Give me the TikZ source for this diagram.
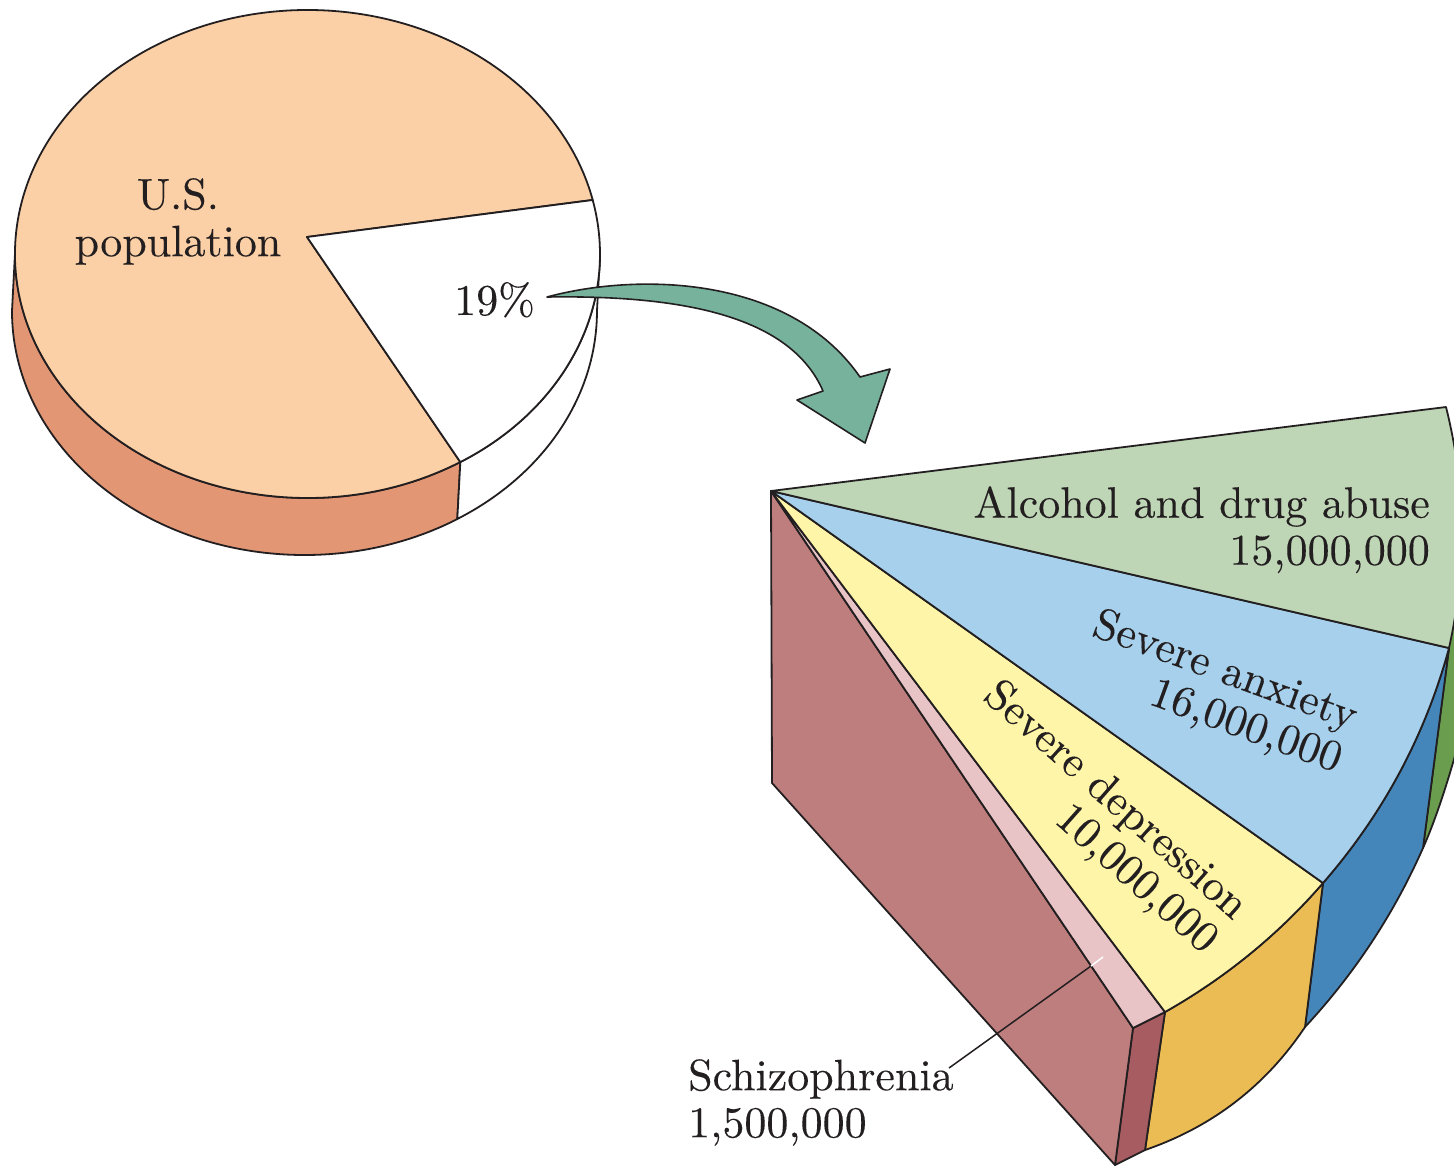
\documentclass[tikz,border=0pt]{standalone}
\usepackage{fontspec}
\newfontfamily\lblfont{lmroman10-regular.otf}[FakeBold=0.15]
\definecolor{ink}{RGB}{35,31,32}
\definecolor{peachtop}{RGB}{252,208,166}
\definecolor{peachside}{RGB}{226,150,116}
\definecolor{teal}{RGB}{118,178,156}
\definecolor{greentop}{RGB}{190,214,182}
\definecolor{greenside}{RGB}{106,158,78}
\definecolor{bluetop}{RGB}{166,208,235}
\definecolor{blueside}{RGB}{68,134,186}
\definecolor{yellowtop}{RGB}{255,245,168}
\definecolor{yellowside}{RGB}{236,188,84}
\definecolor{pinktop}{RGB}{232,196,198}
\definecolor{redface}{RGB}{190,126,126}
\definecolor{darkred}{RGB}{166,92,96}
\begin{document}
\begin{tikzpicture}[x=1pt,y=-1pt,
  face/.style={draw=ink, line width=1.8pt, line join=round},
  lbl/.style={text=ink, inner sep=0pt, font=\lblfont\fontsize{44}{47}\selectfont},
  rlbl/.style={text=ink, inner sep=0pt, font=\lblfont\fontsize{44}{45}\selectfont}]
\useasboundingbox (0,0) rectangle (1454,1168);
\clip (0,0) rectangle (1454,1168);
% ---------- left pie ----------
\path[face, fill=peachside] (460.3,462) arc[start angle=58.5, end angle=180, x radius=292.5, y radius=244]
  -- (12,311) arc[start angle=180, end angle=58.5, x radius=292.5, y radius=244] -- cycle;
\path[face, fill=white] (600,254) arc[start angle=0, end angle=58.5, x radius=292.5, y radius=244]
  -- (457.3,519) arc[start angle=58.5, end angle=0, x radius=292.5, y radius=244] -- cycle;
\path[face, fill=peachtop] (307,237) -- (460.3,462) arc[start angle=58.5, end angle=347.2, x radius=292.5, y radius=244] -- cycle;
\path[face, fill=white] (307,237) -- (592.7,200) arc[start angle=-12.8, end angle=58.5, x radius=292.5, y radius=244] -- cycle;
\node[lbl, align=center, anchor=north] (us) at (178,178) {U.S.\\population};
\node[lbl, anchor=base west] (pct) at (454,315) {19\%};
% ---------- arrow ----------
\path[draw=ink, line width=1.6pt, line join=round, fill=teal]
  (547,297) .. controls (640,272) and (790,276) .. (860,377) -- (890,369) -- (865,443) -- (797,400) -- (823,391)
  .. controls (790,315) and (680,295) .. (547,297) -- cycle;
% ---------- right pie: side faces ----------
\coordinate (A) at (771,491);
\coordinate (G1) at (1446,407);
\coordinate (G2) at (1449,648);
\coordinate (B2) at (1323,883);
\coordinate (Y2) at (1165,1012);
\coordinate (P2) at (1133,1028);
\coordinate (Rb) at (1115,1165);
\coordinate (Yb) at (1145,1150);
\coordinate (Bb) at (1305,1027);
\coordinate (Gb) at (1423,848);
\coordinate (RL) at (772,783);
\path[face, fill=greenside] (G2) -- (Gb) .. controls (1440,810) and (1458,750) .. (1472,690) -- (1480,540) -- (1440,540) -- cycle;
\path[face, fill=blueside] (B2) -- (Bb) .. controls (1354.3,974) and (1393.7,914.3) .. (Gb) -- (G2)
  .. controls (1425,736) and (1383,814) .. (B2) -- cycle;
\path[face, fill=yellowside] (Y2) -- (Yb) .. controls (1212,1127) and (1265.5,1086) .. (Bb) -- (B2)
  .. controls (1278,935) and (1225,978) .. (Y2) -- cycle;
\path[face, fill=darkred] (P2) -- (Y2) -- (Yb) -- (Rb) -- cycle;
\path[face, fill=redface] (A) -- (P2) -- (Rb) -- (RL) -- cycle;
% ---------- right pie: top faces ----------
\path[face, fill=pinktop] (A) -- (Y2) -- (P2) -- cycle;
\path[face, fill=yellowtop] (A) -- (B2) .. controls (1278,935) and (1225,978) .. (Y2) -- cycle;
\path[face, fill=bluetop] (A) -- (G2) .. controls (1425,736) and (1383,814) .. (B2) -- cycle;
\path[face, fill=greentop] (A) -- (G1) .. controls (1466,487) and (1467,567) .. (G2) -- cycle;
% ---------- labels ----------
\node[lbl, align=right, anchor=north east] (alc) at (1430,486) {Alcohol and drug abuse\\15,000,000};
\node[rlbl, align=right, rotate=-20] (anx) at (1217,693) {Severe anxiety\\16,000,000};
\node[rlbl, align=right, rotate=-41.5] (dep) at (1100,818) {Severe depression\\10,000,000};
\node[lbl, align=left, anchor=north west] (sch) at (688,1059) {Schizophrenia\\1,500,000};
\coordinate (ls) at (949,1068);
\coordinate (lm) at (1091,966);
\coordinate (le) at (1103,957);
\draw[ink, line width=1.5pt] (ls) -- (lm);
\draw[white, line width=1.5pt] (lm) -- (le);
\end{tikzpicture}
\end{document}
